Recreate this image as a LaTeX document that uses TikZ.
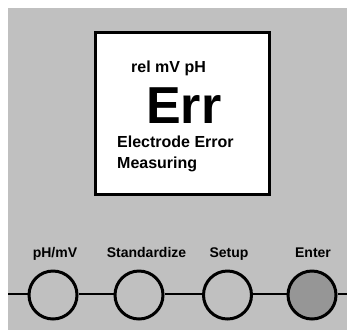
\documentclass[tikz,border=0pt]{standalone}
\usepackage{fontspec}
\setmainfont{Liberation Sans}
\begin{document}
\begin{tikzpicture}[x=1pt,y=-1pt,
  lcd/.style={font=\bfseries\fontsize{16}{19}\selectfont, inner sep=0pt, anchor=base west},
  keylabel/.style={font=\bfseries\fontsize{14}{17}\selectfont, inner sep=0pt, anchor=base},
  key/.style={circle, draw=black, line width=3pt, minimum size=48pt, inner sep=0pt, fill=panel},
  wire/.style={draw=black, line width=2pt}]
\definecolor{panel}{HTML}{C0C0C0}
\definecolor{keyon}{HTML}{969696}
\useasboundingbox (0,0) rectangle (347,330);
\fill[white] (0,0) rectangle (347,330);
\fill[panel] (8,8) rectangle (347,330);
% display
\node[draw=black, line width=2.5pt, fill=white, minimum width=174pt, minimum height=162pt, inner sep=0pt, anchor=north west] (disp) at (94,31) {};
\node[lcd] (units) at (131,72) {rel mV pH};
\node[lcd, font=\bfseries\fontsize{52}{60}\selectfont] (err) at (146,123) {Err};
\node[lcd] (msg1) at (117,147) {Electrode Error};
\node[lcd] (msg2) at (117,168) {Measuring};
% keys
\coordinate (lstart) at (8,294);
\coordinate (lend) at (347,294);
\node[key] (k1) at (53,295) {};
\node[key] (k2) at (139,295) {};
\node[key] (k3) at (227.5,295) {};
\node[key, fill=keyon] (k4) at (312,295) {};
\draw[wire] (lstart) -- (k1.west |- lstart);
\draw[wire] (k1.east |- lstart) -- (k2.west |- lstart);
\draw[wire] (k2.east |- lstart) -- (k3.west |- lstart);
\draw[wire] (k3.east |- lstart) -- (k4.west |- lstart);
\draw[wire] (k4.east |- lstart) -- (lend);
\node[keylabel] (t1) at (55,257) {pH/mV};
\node[keylabel] (t2) at (146.5,257) {Standardize};
\node[keylabel] (t3) at (229,257) {Setup};
\node[keylabel] (t4) at (313,257) {Enter};
\end{tikzpicture}
\end{document}
